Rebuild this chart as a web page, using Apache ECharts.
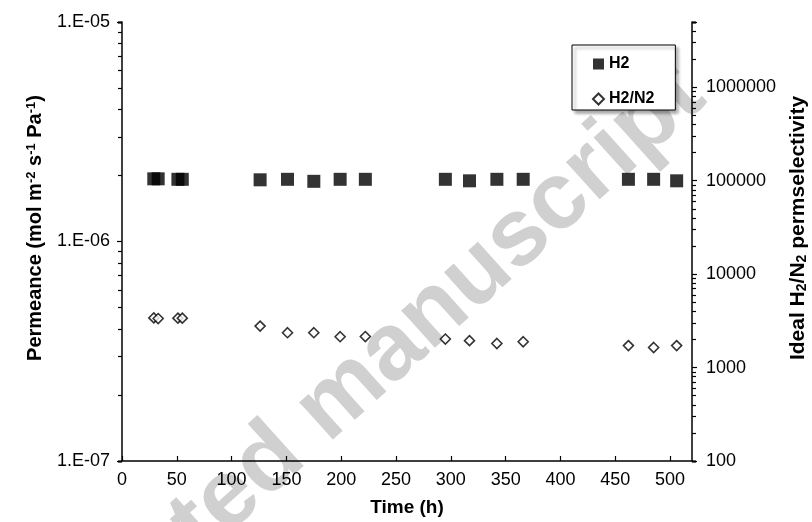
<!DOCTYPE html>
<html><head><meta charset="utf-8">
<script src="https://cdn.jsdelivr.net/npm/echarts@6/dist/echarts.min.js"></script>
<style>html,body{margin:0;padding:0;background:#fff}#c{width:812px;height:522px}</style>
</head><body><div id="c"></div>
<script>
// ---- data ----
const timeH = [29, 33, 51, 55, 126, 151, 175, 199, 222, 295, 317, 342, 366, 462, 485, 506];
const h2Permeance = [1.93e-6, 1.93e-6, 1.92e-6, 1.92e-6, 1.91e-6, 1.92e-6, 1.88e-6, 1.92e-6, 1.92e-6,
                     1.92e-6, 1.89e-6, 1.92e-6, 1.92e-6, 1.92e-6, 1.92e-6, 1.89e-6];
const selectivity = [3400, 3350, 3380, 3380, 2780, 2360, 2360, 2140, 2150,
                     2020, 1940, 1810, 1890, 1720, 1640, 1720];
const seriesNames = ['H2', 'H2/N2'];
const permRange = [1e-7, 1e-5];
const selRange = [100, 5e6];
const timeRange = [0, 520];
const timeStep = 50;
const minorFactors = [2, 3, 4, 5, 6, 7, 8, 9];
const watermark = 'Accepted manuscript';

const FONT = '"Liberation Sans", Arial, sans-serif';
const GRID = { left: 122, right: 120, top: 22, bottom: 61, containLabel: false, outerBoundsMode: 'none' };
const chart = echarts.init(document.getElementById('c'));

function sciLabel(v) {
  const e = Math.round(Math.log10(v));
  return '1.E' + (e < 0 ? '-' : '+') + String(Math.abs(e)).padStart(2, '0');
}
function isPow10(v) {
  const l = Math.log10(v);
  return Math.abs(l - Math.round(l)) < 1e-6;
}
// log-style minor ticks (2..9 x 10^n): one overlay grid per factor, whose
// power-of-ten ticks fall exactly on k*10^n of the main axes
function minorYAxis(range, k, position, gridIndex) {
  return {
    type: 'log', gridIndex: gridIndex, position: position, min: range[0] / k, max: range[1] / k,
    axisLine: { show: false },
    axisTick: { show: true, inside: false, length: 4, lineStyle: { color: '#000', width: 1.2 } },
    axisLabel: { show: false }, splitLine: { show: false }, silent: true
  };
}

const grids = [Object.assign({}, GRID)].concat(minorFactors.map(() => Object.assign({}, GRID)));

const xAxes = [{
  type: 'value', gridIndex: 0, min: timeRange[0], max: timeRange[1], interval: timeStep,
  name: 'Time (h)', nameLocation: 'middle', nameGap: 37,
  nameTextStyle: { fontFamily: FONT, fontSize: 19, fontWeight: 'bold', color: '#000' },
  axisLine: { show: true, lineStyle: { color: '#000', width: 1.5 } },
  axisTick: { show: true, inside: true, length: 5, lineStyle: { color: '#000', width: 1.2 } },
  axisLabel: { fontFamily: FONT, fontSize: 18, color: '#000', margin: 10, showMaxLabel: false },
  splitLine: { show: false }
}].concat(minorFactors.map((k, i) => ({
  type: 'value', gridIndex: i + 1, min: timeRange[0], max: timeRange[1], show: false
})));

const yAxes = [
  {
    type: 'log', gridIndex: 0, position: 'left', min: permRange[0], max: permRange[1],
    name: 'Permeance (mol m{sup|-2} s{sup|-1} Pa{sup|-1})',
    nameLocation: 'middle', nameRotate: 90, nameGap: 77,
    nameTextStyle: {
      fontFamily: FONT, fontSize: 20, fontWeight: 'bold', color: '#000', padding: [0, 0, 0, 27],
      rich: { sup: { fontFamily: FONT, fontSize: 13, fontWeight: 'bold', color: '#000', verticalAlign: 'top' } }
    },
    axisLine: { show: true, lineStyle: { color: '#000', width: 1.5 } },
    axisTick: { show: true, inside: false, length: 5, lineStyle: { color: '#000', width: 1.2 } },
    axisLabel: { fontFamily: FONT, fontSize: 18, color: '#000', margin: 12, formatter: sciLabel },
    splitLine: { show: false }
  },
  {
    type: 'log', gridIndex: 0, position: 'right', min: selRange[0], max: selRange[1],
    name: 'Ideal H{sub|2}/N{sub|2} permselectivity',
    nameLocation: 'middle', nameRotate: 90, nameGap: 96,
    nameTextStyle: {
      fontFamily: FONT, fontSize: 21, fontWeight: 'bold', color: '#000', padding: [0, 0, 0, 27],
      rich: { sub: { fontFamily: FONT, fontSize: 14, fontWeight: 'bold', color: '#000', verticalAlign: 'bottom' } }
    },
    axisLine: { show: true, lineStyle: { color: '#000', width: 1.5 } },
    axisTick: { show: true, inside: false, length: 5, lineStyle: { color: '#000', width: 1.2 } },
    axisLabel: { fontFamily: FONT, fontSize: 18, color: '#000', margin: 14,
      formatter: v => isPow10(v) ? String(Math.round(v)) : '' },
    splitLine: { show: false }
  }
];
minorFactors.forEach((k, i) => {
  yAxes.push(minorYAxis(permRange, k, 'left', i + 1));
  yAxes.push(minorYAxis(selRange, k, 'right', i + 1));
});

const option = {
  backgroundColor: '#fff',
  animation: false,
  grid: grids,
  graphic: [{
    type: 'text', z: -1, x: 691, y: 82, rotation: 42 * Math.PI / 180,
    style: { text: watermark, fill: '#d0d0d0', font: 'bold 95px ' + FONT, textAlign: 'right', textVerticalAlign: 'middle' }
  }],
  legend: {
    data: seriesNames, orient: 'vertical', left: 572, top: 45,
    padding: [11, 21, 3, 20], itemGap: 19, itemWidth: 11, itemHeight: 11, itemTextGap: 5,
    backgroundColor: '#fff', borderColor: '#000', borderWidth: 1,
    shadowBlur: 3, shadowColor: 'rgba(0,0,0,0.35)', shadowOffsetX: 3, shadowOffsetY: 3,
    textStyle: { fontFamily: FONT, fontSize: 16, fontWeight: 'bold', color: '#000' }
  },
  xAxis: xAxes,
  yAxis: yAxes,
  series: [
    {
      name: seriesNames[0], type: 'scatter', xAxisIndex: 0, yAxisIndex: 0, symbol: 'rect', symbolSize: 13,
      itemStyle: { color: '#000' },
      data: timeH.map((t, i) => [t, h2Permeance[i]])
    },
    {
      name: seriesNames[1], type: 'scatter', xAxisIndex: 0, yAxisIndex: 1, symbol: 'diamond', symbolSize: 10,
      itemStyle: { color: '#fff', borderColor: '#000', borderWidth: 1.6 },
      data: timeH.map((t, i) => [t, selectivity[i]])
    }
  ]
};
chart.setOption(option);
</script>
</body></html>
